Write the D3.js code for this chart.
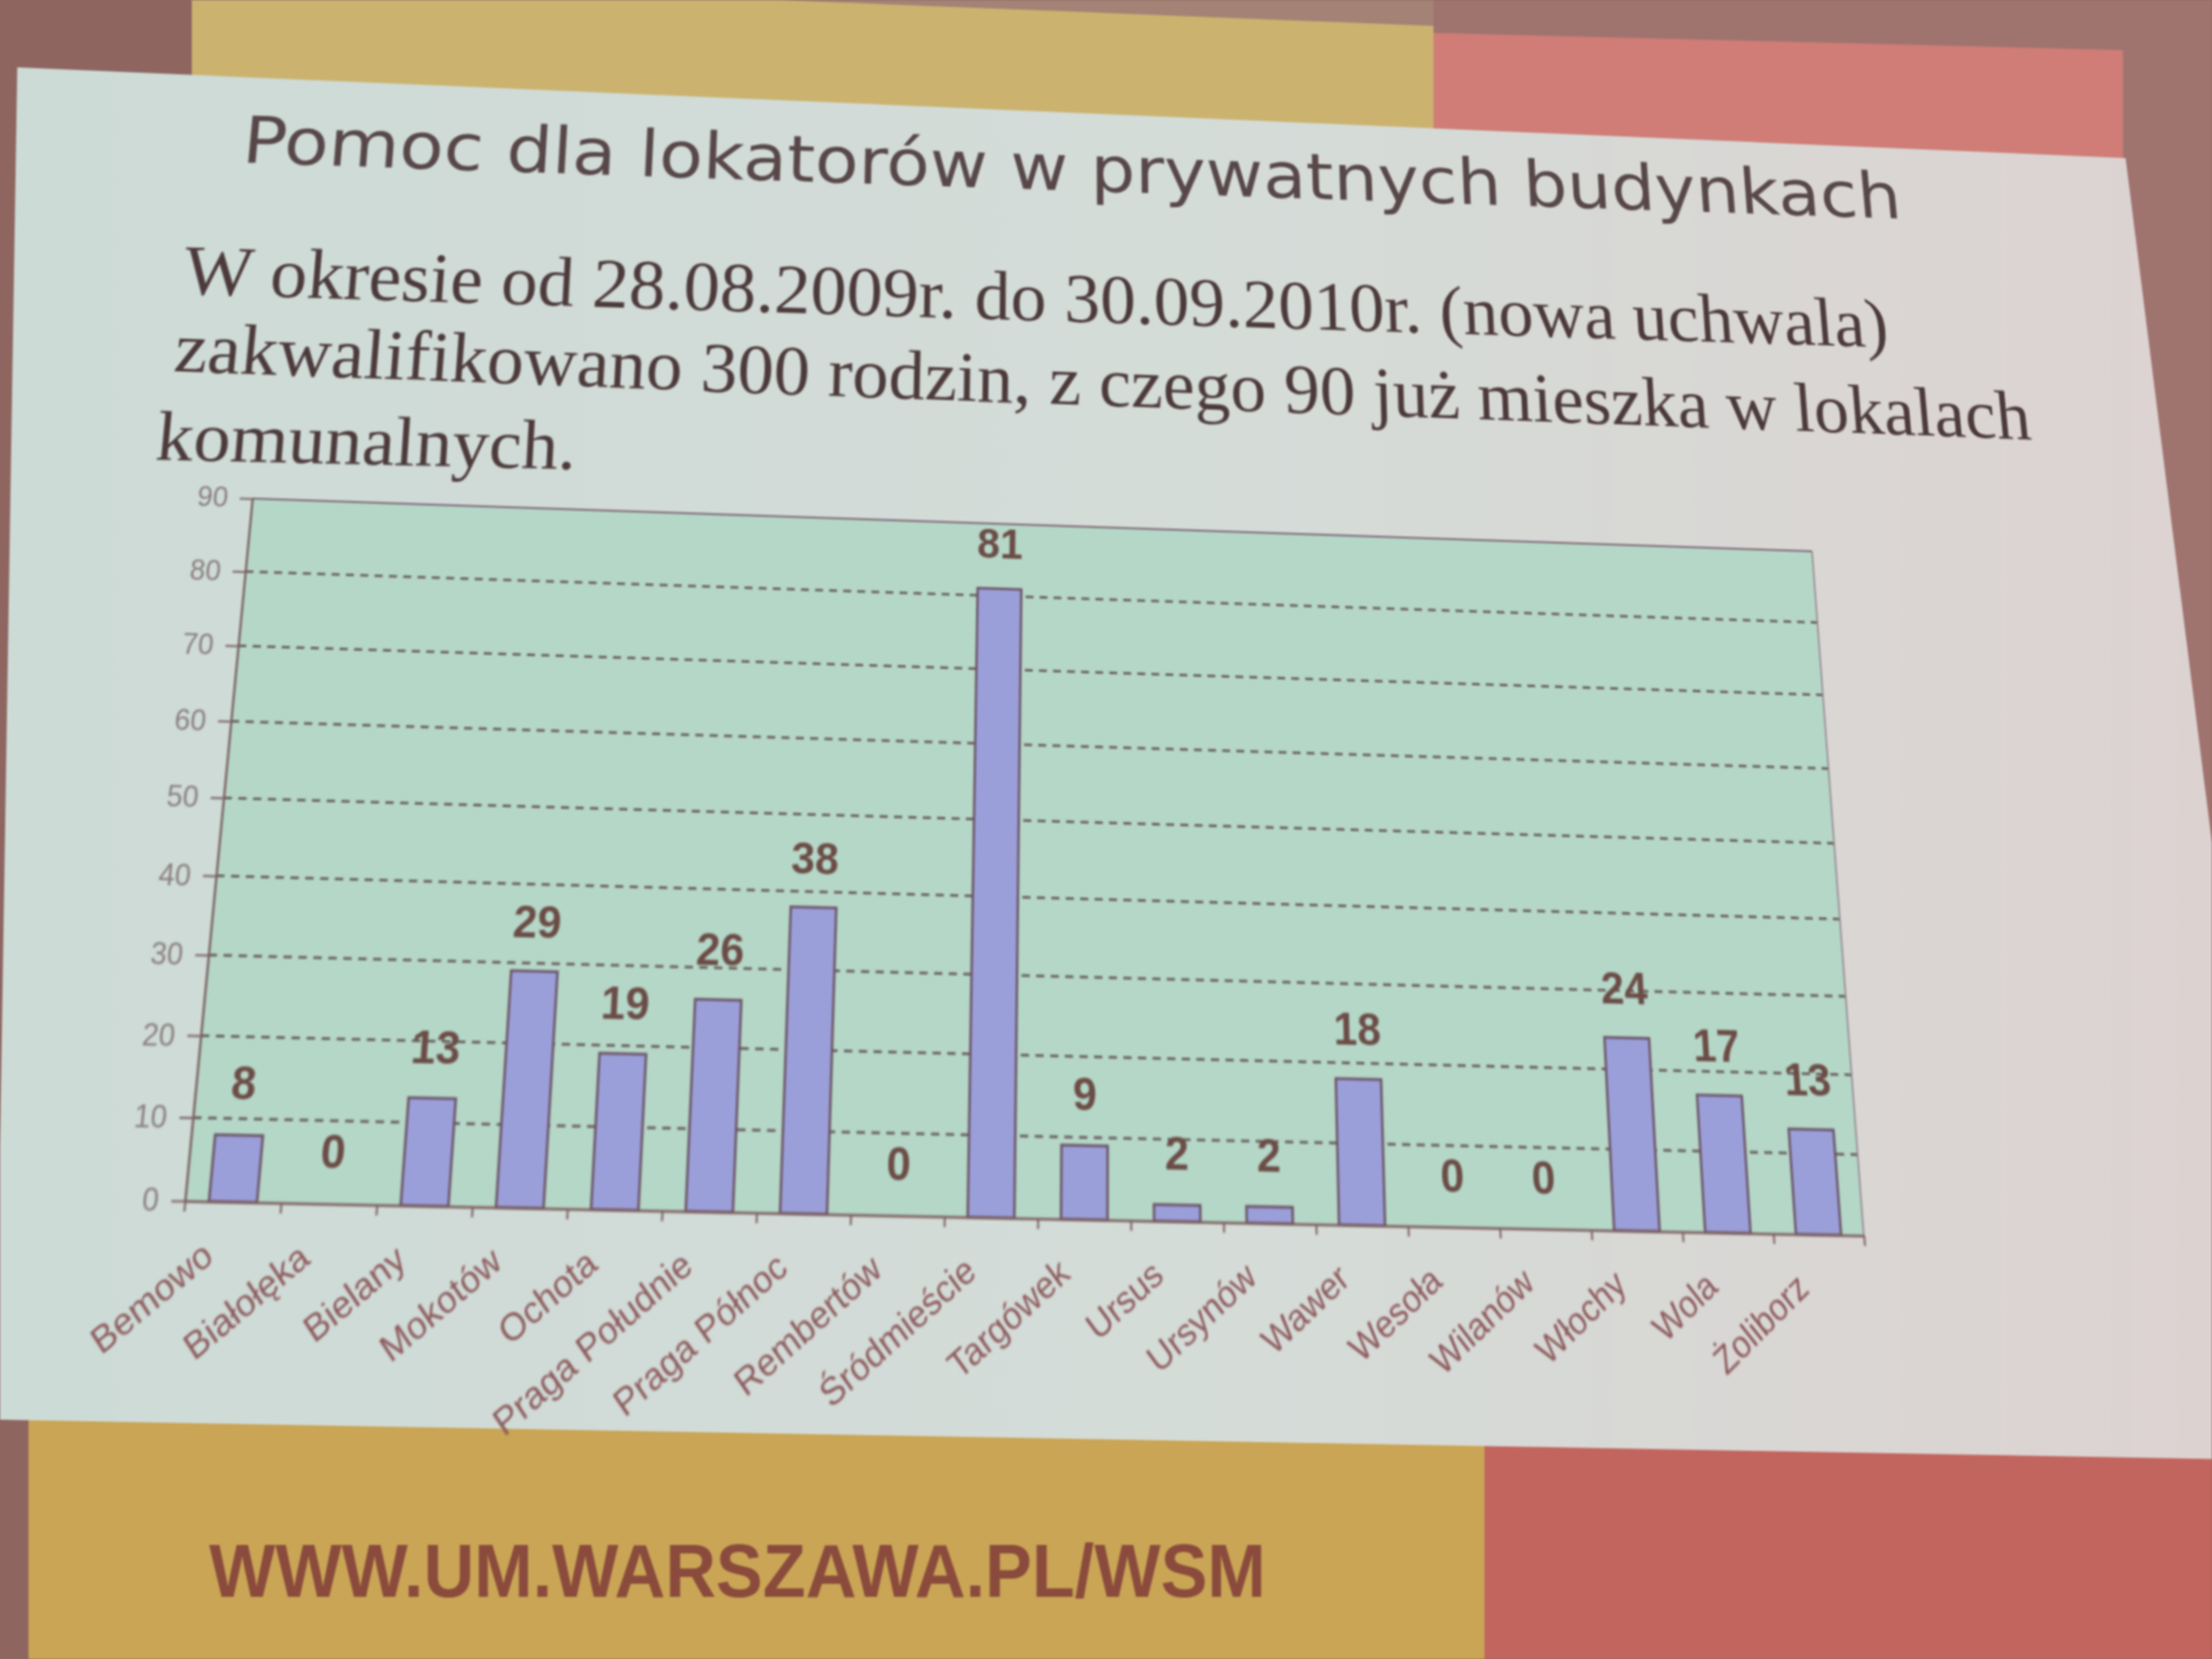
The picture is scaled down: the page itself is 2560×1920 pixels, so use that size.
<!DOCTYPE html>
<html>
<head>
<meta charset="utf-8">
<script src="https://cdn.jsdelivr.net/npm/d3@7"></script>
<style>
  html, body { margin: 0; padding: 0; width: 2560px; height: 1920px; overflow: hidden; background: #8d6660; }
  #bg { position: absolute; left: 0; top: 0; filter: blur(1.2px); }
  #slide { position: absolute; left: 0; top: 0; width: 2700px; height: 2000px; transform-origin: 0 0; filter: blur(1.2px); }
</style>
</head>
<body>
<svg id="bg" width="2560" height="1920"></svg>
<div id="slide"></div>
<script>
/*------------------------------------- DATA -------------------------------------*/

const DISTRICTS = ["Bemowo", "Białołęka", "Bielany", "Mokotów", "Ochota", "Praga Południe", "Praga Północ",
    "Rembertów", "Śródmieście", "Targówek", "Ursus", "Ursynów", "Wawer", "Wesoła", "Wilanów", "Włochy", "Wola", "Żoliborz"];
const FAMILIES = [8, 0, 13, 29, 19, 26, 38, 0, 81, 9, 2, 2, 18, 0, 0, 24, 17, 13];
const Y_TICKS = [0, 10, 20, 30, 40, 50, 60, 70, 80, 90];

const TITLE = "Pomoc dla lokatorów w prywatnych budynkach";
const BODY = [
    "W okresie od 28.08.2009r. do 30.09.2010r. (nowa uchwala)",
    "zakwalifikowano 300 rodzin, z czego 90 już mieszka w lokalach",
    "komunalnych."
];
const FOOTER = "WWW.UM.WARSZAWA.PL/WSM";

/*------------------------------------- LAYOUT -------------------------------------*/

// plot in slide units; the photo squeezes the slide sideways, so it is a bit flatter here
const PLOT = { x: 300, y: 620, w: 1800, h: 715 };
// where the plot corners sit in the photo (tl, tr, br, bl)
const PHOTO_CORNERS = [[292, 577], [2097, 638], [2157, 1430], [214, 1390]];

// text baselines measured in the photo: start, end, font size
const TEXT_POS = [
    { p0: [279, 188], p1: [2202, 253], fs: 74, font: "DejaVu Sans", fill: "#574749" },
    { p0: [210, 340], p1: [2187, 402], fs: 80, font: "Liberation Serif", fill: "#4c3a3b" },
    { p0: [200, 430], p1: [2352, 508], fs: 80, font: "Liberation Serif", fill: "#4c3a3b" },
    { p0: [179, 532], p1: [666, 543], fs: 80, font: "Liberation Serif", fill: "#4c3a3b" }
];

/*------------------------------------- PERSPECTIVE -------------------------------------*/

function homography(src, dst) {
    const A = [], b = [];
    for (let i = 0; i < 4; i++) {
        const [x, y] = src[i], [X, Y] = dst[i];
        A.push([x, y, 1, 0, 0, 0, -x * X, -y * X]); b.push(X);
        A.push([0, 0, 0, x, y, 1, -x * Y, -y * Y]); b.push(Y);
    }
    for (let c = 0; c < 8; c++) {
        let p = c;
        for (let r = c + 1; r < 8; r++) if (Math.abs(A[r][c]) > Math.abs(A[p][c])) p = r;
        [A[c], A[p]] = [A[p], A[c]];
        [b[c], b[p]] = [b[p], b[c]];
        for (let r = 0; r < 8; r++) {
            if (r === c) continue;
            const f = A[r][c] / A[c][c];
            for (let k = c; k < 8; k++) A[r][k] -= f * A[c][k];
            b[r] -= f * b[c];
        }
    }
    return b.map((v, i) => v / A[i][i]);
}

const project = (h, x, y) => {
    const w = h[6] * x + h[7] * y + 1;
    return [(h[0] * x + h[1] * y + h[2]) / w, (h[3] * x + h[4] * y + h[5]) / w];
};

const slideCorners = [[PLOT.x, PLOT.y], [PLOT.x + PLOT.w, PLOT.y], [PLOT.x + PLOT.w, PLOT.y + PLOT.h], [PLOT.x, PLOT.y + PLOT.h]];
const HM = homography(slideCorners, PHOTO_CORNERS);
const HI = homography(PHOTO_CORNERS, slideCorners);

d3.select("#slide").style("transform",
    `matrix3d(${HM[0]},${HM[3]},0,${HM[6]},${HM[1]},${HM[4]},0,${HM[7]},0,0,1,0,${HM[2]},${HM[5]},0,1)`);

/*------------------------------------- BACKGROUND -------------------------------------*/

const BG = d3.select("#bg");
const defs = BG.append("defs");
const grad = defs.append("linearGradient").attr("id", "panel").attr("x1", 0).attr("x2", 1).attr("y1", 0).attr("y2", 0);
grad.append("stop").attr("offset", 0).attr("stop-color", "#cddbd7");
grad.append("stop").attr("offset", 0.55).attr("stop-color", "#d5dcd8");
grad.append("stop").attr("offset", 1).attr("stop-color", "#ddd2d1");

const poly = (pts, fill) => BG.append("polygon").attr("points", pts.map(p => p.join(",")).join(" ")).attr("fill", fill);

poly([[0, 0], [2560, 0], [2560, 1920], [0, 1920]], "#8f6560");
poly([[1659, 0], [2560, 0], [2560, 1920], [1659, 1920]], "#9f736e");
poly([[222, 0], [1659, 0], [1659, 500], [222, 500]], "#cbb36f");
poly([[900, 0], [1659, 0], [1659, 30]], "#a48276");
poly([[1659, 38], [2457, 58], [2457, 500], [1659, 500]], "#cf7d76");
poly([[33, 1580], [1718, 1580], [1718, 1920], [33, 1920]], "#c9a555");
poly([[1718, 1580], [2560, 1580], [2560, 1920], [1718, 1920]], "#c1655e");
poly([[20, 78], [2460, 183], [2650, 1690], [-5, 1643]], "url(#panel)");

BG.append("text")
    .attr("x", 242).attr("y", 1848)
    .attr("textLength", 1223).attr("lengthAdjust", "spacingAndGlyphs")
    .attr("font-family", "Liberation Sans, Arial, sans-serif")
    .attr("font-weight", "bold").attr("font-size", 88)
    .attr("fill", "#8a4b3d")
    .text(FOOTER);

/*------------------------------------- SLIDE -------------------------------------*/

const SVG = d3.select("#slide").append("svg").attr("width", 2700).attr("height", 2000);

// texts placed from photo baselines back into slide space
[TITLE, ...BODY].forEach((t, i) => {
    const pos = TEXT_POS[i];
    const s0 = project(HI, ...pos.p0), s1 = project(HI, ...pos.p1);
    const len = Math.hypot(s1[0] - s0[0], s1[1] - s0[1]);
    const photoLen = Math.hypot(pos.p1[0] - pos.p0[0], pos.p1[1] - pos.p0[1]);
    const ang = Math.atan2(s1[1] - s0[1], s1[0] - s0[0]) * 180 / Math.PI;
    SVG.append("text")
        .attr("x", s0[0]).attr("y", s0[1])
        .attr("transform", `rotate(${ang},${s0[0]},${s0[1]})`)
        .attr("textLength", len).attr("lengthAdjust", "spacingAndGlyphs")
        .attr("font-family", pos.font)
        .attr("font-size", pos.fs * len / photoLen)
        .attr("fill", pos.fill)
        .text(t);
});

const g = SVG.append("g").attr("transform", `translate(${PLOT.x},${PLOT.y})`);

const x = d3.scaleBand().domain(DISTRICTS).range([0, PLOT.w]).paddingInner(0.5).paddingOuter(0.25);
const idx = d3.scaleLinear().domain([0, DISTRICTS.length]).range([0, PLOT.w]);
const y = d3.scaleLinear().domain([0, 90]).range([PLOT.h, 0]);

g.append("rect").attr("width", PLOT.w).attr("height", PLOT.h).attr("fill", "#b5d7c8");

g.selectAll(".grid")
    .data(Y_TICKS.filter(v => v > 0 && v < 90))
    .join("line")
    .attr("class", "grid")
    .attr("x1", 0).attr("x2", PLOT.w)
    .attr("y1", d => y(d)).attr("y2", d => y(d))
    .attr("stroke", "#5b4848").attr("stroke-width", 2.2).attr("stroke-dasharray", "9,7");

g.append("line").attr("x1", 0).attr("x2", PLOT.w).attr("y1", y(90)).attr("y2", y(90))
    .attr("stroke", "#7d6574").attr("stroke-width", 2);
g.append("line").attr("x1", PLOT.w).attr("x2", PLOT.w).attr("y1", 0).attr("y2", PLOT.h)
    .attr("stroke", "#8f7f8c").attr("stroke-width", 1.6);

g.selectAll(".bar")
    .data(FAMILIES)
    .join("rect")
    .attr("class", "bar")
    .attr("x", (d, i) => x(DISTRICTS[i]))
    .attr("y", d => y(d))
    .attr("width", x.bandwidth())
    .attr("height", d => y(0) - y(d))
    .attr("fill", "#9b9fd9")
    .attr("stroke", "#6a5163").attr("stroke-width", 2.6);

g.selectAll(".val")
    .data(FAMILIES)
    .join("text")
    .attr("class", "val")
    .attr("x", (d, i) => x(DISTRICTS[i]) + x.bandwidth() / 2)
    .attr("y", d => y(d) - 34)
    .attr("text-anchor", "middle")
    .attr("font-family", "Liberation Sans, Arial, sans-serif")
    .attr("font-weight", "bold").attr("font-size", 47)
    .attr("fill", "#6b4c46")
    .text(d => d);

// axes
const yAxis = g.append("g")
    .call(d3.axisLeft(y).tickValues(Y_TICKS).tickSize(14).tickSizeOuter(0).tickPadding(13));
yAxis.select(".domain").attr("stroke", "#7a6060").attr("stroke-width", 2.5);
yAxis.selectAll(".tick line").attr("stroke", "#7a6060").attr("stroke-width", 2);
yAxis.selectAll(".tick text")
    .attr("font-family", "Liberation Sans, Arial, sans-serif")
    .attr("font-size", 31).attr("fill", "#8a7f7f");

const xAxis = g.append("g")
    .attr("transform", `translate(0,${PLOT.h})`)
    .call(d3.axisBottom(idx).tickValues(d3.range(DISTRICTS.length + 1)).tickSize(10).tickSizeOuter(0).tickFormat(() => ""));
xAxis.select(".domain").attr("stroke", "#7a5c5c").attr("stroke-width", 2.5);
xAxis.selectAll(".tick line").attr("stroke", "#7a5c5c").attr("stroke-width", 2);

g.selectAll(".cat")
    .data(DISTRICTS)
    .join("text")
    .attr("class", "cat")
    .attr("text-anchor", "end")
    .attr("transform", d => `translate(${x(d) + x.bandwidth() / 2 - 13},${PLOT.h + 55}) rotate(-40)`)
    .attr("font-family", "Liberation Sans, Arial, sans-serif")
    .attr("font-size", 36)
    .attr("fill", "#8c5a5c")
    .text(d => d);
</script>
</body>
</html>
